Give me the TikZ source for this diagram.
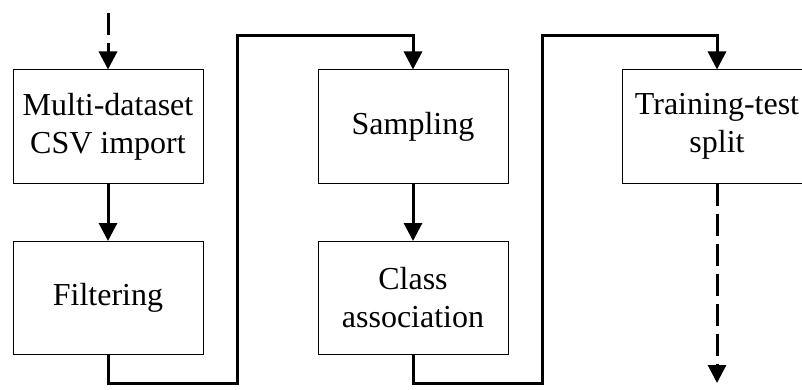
\documentclass[tikz,border=0pt]{standalone}
\usepackage{fontspec}
\setmainfont{Liberation Serif}
\usetikzlibrary{arrows.meta,positioning}

\begin{document}
\begin{tikzpicture}[>={Triangle[length=9pt,width=9pt]}, x=0.5pt, y=-0.5pt,
    stage/.style={draw, line width=0.5pt, minimum width=95pt, minimum height=56.5pt,
        inner sep=0pt, align=center, font=\fontsize{16}{19}\selectfont},
    flow/.style={->, line width=1.5pt},
    loose/.style={flow, dash pattern=on 11pt off 4pt}]
    \useasboundingbox (0,0) rectangle (802,390);

    % stages
    \node[stage] (csv)    at (108,126.5) {Multi-dataset\\CSV import};
    \node[stage] (filt)   at (108,298)   {Filtering};
    \node[stage] (samp)   at (413,126.5) {Sampling};
    \node[stage] (cls)    at (413,298)   {Class\\association};
    \node[stage] (split)  at (717,126.5) {Training-test\\split};

    % in / out
    \coordinate (in)  at (108,13);
    \coordinate (out) at (717,383);
    \draw[loose] (in) -- (csv.north);
    \draw[loose] (split.south) -- (out);

    % straight steps
    \foreach \a/\b in {csv/filt,samp/cls}
    {
        \draw[flow] (\a.south) -- (\b.north);
    }

    % column changes
    \coordinate (ja) at (237,383);
    \coordinate (ka) at (237,36);
    \coordinate (jb) at (542,383);
    \coordinate (kb) at (542,36);
    \draw[flow] (filt.south) |- (ja) -- (ka) -| (samp.north);
    \draw[flow] (cls.south) |- (jb) -- (kb) -| (split.north);
    \end{tikzpicture}
\end{document}
